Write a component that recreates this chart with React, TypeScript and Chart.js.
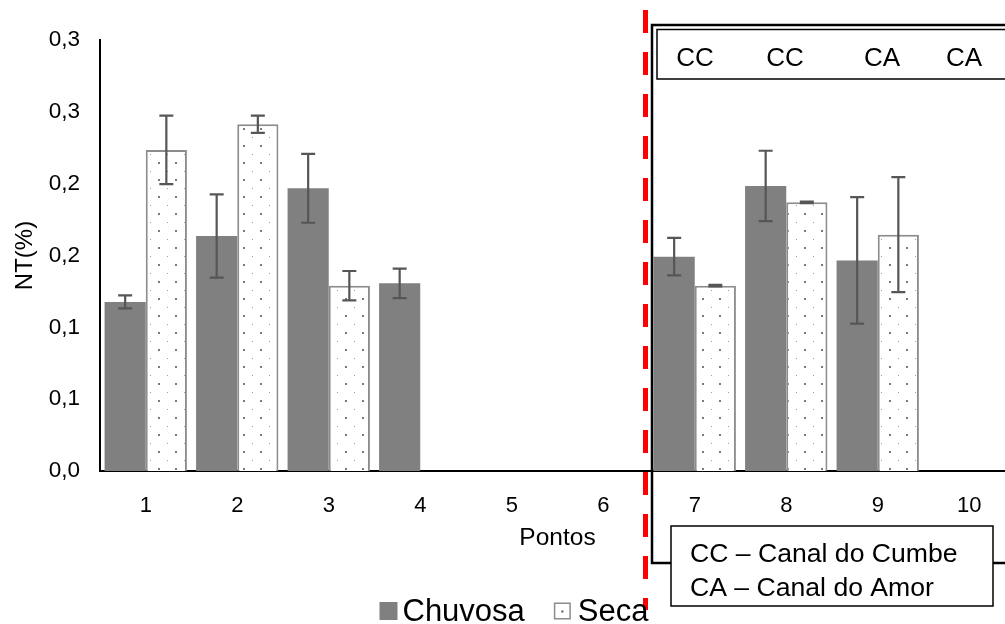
import React, { useEffect, useRef } from 'react';
import { Chart, registerables } from 'chart.js';

Chart.register(...registerables);

const categories = ['1', '2', '3', '4', '5', '6', '7', '8', '9', '10'];
const chuvosa = [0.1177, 0.1636, 0.1968, 0.1306, null, null, 0.1492, 0.1984, 0.1466, null];
const seca = [0.2235, 0.2413, 0.129, null, null, null, 0.129, 0.187, 0.1645, null];
const chuvosaErr = [0.0045, 0.029, 0.024, 0.0102, 0, 0, 0.013, 0.0245, 0.044, 0];
const secaErr = [0.0238, 0.006, 0.0102, 0, 0, 0, 0.0005, 0.0005, 0.04, 0];
const yTickLabels = ['0,0', '0,1', '0,1', '0,2', '0,2', '0,3', '0,3'];
const seriesLabels = ['Chuvosa', 'Seca'];
const siteLabels = ['CC', 'CC', 'CA', 'CA'];
const siteLegend = ['CC \u2013 Canal do Cumbe', 'CA \u2013 Canal do Amor'];

const FONT = "'Liberation Sans', Arial, sans-serif";

function makeDotPattern(): CanvasPattern | string {
  const c = document.createElement('canvas');
  c.width = 17;
  c.height = 17;
  const g = c.getContext('2d');
  if (!g) return '#fff';
  g.fillStyle = '#ffffff';
  g.fillRect(0, 0, 17, 17);
  g.fillStyle = '#9a9a9a';
  g.fillRect(14, 1, 1, 1);
  g.fillStyle = '#7a7a7a';
  g.fillRect(5, 9, 2, 2);
  return g.createPattern(c, 'repeat') || '#fff';
}

const errorBarPlugin = {
  id: 'errorBars',
  afterDatasetsDraw(chart: any) {
    const ctx = chart.ctx;
    const y = chart.scales.y;
    const errs = [chuvosaErr, secaErr];
    chart.data.datasets.forEach((ds: any, di: number) => {
      const meta = chart.getDatasetMeta(di);
      meta.data.forEach((bar: any, i: number) => {
        const v = ds.data[i];
        const e = errs[di][i];
        if (v == null || !e) return;
        const yTop = y.getPixelForValue(v + e);
        const yBot = y.getPixelForValue(v - e);
        ctx.save();
        ctx.strokeStyle = '#565656';
        ctx.lineWidth = 2.2;
        ctx.beginPath();
        ctx.moveTo(bar.x, yTop);
        ctx.lineTo(bar.x, yBot);
        ctx.moveTo(bar.x - 7, yTop);
        ctx.lineTo(bar.x + 7, yTop);
        ctx.moveTo(bar.x - 7, yBot);
        ctx.lineTo(bar.x + 7, yBot);
        ctx.stroke();
        ctx.restore();
      });
    });
  },
};

const annotationPlugin = {
  id: 'annotations',
  afterDraw(chart: any) {
    const ctx = chart.ctx;
    ctx.save();

    // Big region box (points 7-10)
    ctx.strokeStyle = '#000';
    ctx.lineWidth = 2.5;
    ctx.strokeRect(652, 25, 500, 538);

    // Inner box with site labels
    ctx.lineWidth = 1.5;
    ctx.strokeRect(657, 29.5, 500, 49.5);

    ctx.fillStyle = '#000';
    ctx.font = `26px ${FONT}`;
    ctx.textAlign = 'center';
    ctx.textBaseline = 'alphabetic';
    const siteX = [695, 785, 882, 964];
    siteLabels.forEach((t, i) => ctx.fillText(t, siteX[i], 66));

    // Site legend box
    ctx.fillStyle = '#fff';
    ctx.fillRect(671, 526, 322, 80);
    ctx.lineWidth = 1.5;
    ctx.strokeStyle = '#000';
    ctx.strokeRect(671, 526, 322, 80);
    ctx.fillStyle = '#000';
    ctx.textAlign = 'left';
    ctx.font = `26.6px ${FONT}`;
    ctx.fillText(siteLegend[0], 690, 562);
    ctx.fillText(siteLegend[1], 690, 596);

    // Red dashed separator
    ctx.strokeStyle = '#ff0000';
    ctx.lineWidth = 5;
    ctx.setLineDash([23, 19]);
    ctx.beginPath();
    ctx.moveTo(645.5, 10);
    ctx.lineTo(645.5, 610);
    ctx.stroke();
    ctx.setLineDash([]);

    // Series legend
    const ds = chart.data.datasets;
    ctx.font = `31px ${FONT}`;
    ctx.textBaseline = 'middle';
    const w1 = ctx.measureText(seriesLabels[0]).width;
    const w2 = ctx.measureText(seriesLabels[1]).width;
    const total = 18 + 5 + w1 + 29 + 17 + 7 + w2;
    let x = 514 - total / 2;
    const cy = 611;
    ctx.fillStyle = ds[0].backgroundColor;
    ctx.fillRect(x, cy - 9, 18, 18);
    x += 23;
    ctx.fillStyle = '#000';
    ctx.fillText(seriesLabels[0], x, cy + 1);
    x += w1 + 29;
    ctx.fillStyle = '#fff';
    ctx.fillRect(x, cy - 8.5, 17, 17);
    ctx.strokeStyle = ds[1].borderColor;
    ctx.lineWidth = 1.5;
    ctx.strokeRect(x + 0.75, cy - 7.75, 15.5, 15.5);
    ctx.fillStyle = '#555';
    ctx.fillRect(x + 7.5, cy - 0.5, 2, 2);
    x += 24;
    ctx.fillStyle = '#000';
    ctx.fillText(seriesLabels[1], x, cy + 1);

    ctx.restore();
  },
};

export default function App() {
  const ref = useRef<HTMLCanvasElement | null>(null);

  useEffect(() => {
    if (!ref.current) return;
    const pattern = makeDotPattern();
    const chart = new Chart(ref.current, {
      type: 'bar',
      data: {
        labels: categories,
        datasets: [
          {
            label: seriesLabels[0],
            data: chuvosa as any,
            backgroundColor: '#808080',
            borderWidth: 0,
            categoryPercentage: 0.9,
            barPercentage: 1.0,
          },
          {
            label: seriesLabels[1],
            data: seca as any,
            backgroundColor: pattern as any,
            borderColor: '#8c8c8c',
            borderWidth: 2,
            categoryPercentage: 0.9,
            barPercentage: 1.0,
          },
        ],
      },
      options: {
        animation: false,
        responsive: false,
        layout: { padding: { top: 40, left: 0, right: 0, bottom: 0 } },
        plugins: {
          legend: { display: false },
          tooltip: { enabled: false },
        },
        scales: {
          x: {
            grid: { display: false, drawTicks: false },
            border: { display: true, color: '#000', width: 2 },
            ticks: { color: '#000', font: { family: FONT, size: 22 }, padding: 22 },
            title: {
              display: true,
              text: 'Pontos',
              color: '#000',
              font: { family: FONT, size: 24.5 },
              padding: { top: 0, bottom: 71 },
            },
            afterFit: (s: any) => {
              s.height = 153;
            },
          },
          y: {
            min: 0,
            max: 0.3,
            grid: { display: false, drawTicks: false },
            border: { display: true, color: '#000', width: 2 },
            ticks: {
              stepSize: 0.05,
              color: '#000',
              font: { family: FONT, size: 22.5 },
              padding: 20,
              callback: (_v: any, i: number) => yTickLabels[i],
            },
            title: {
              display: true,
              text: 'NT(%)',
              color: '#000',
              font: { family: FONT, size: 24 },
              padding: { top: 11, bottom: 0 },
            },
            afterFit: (s: any) => {
              s.width = 100;
            },
          },
        },
      },
      plugins: [errorBarPlugin, annotationPlugin],
    });
    return () => chart.destroy();
  }, []);

  return (
    <div
      style={{
        position: 'fixed',
        left: 0,
        top: 0,
        width: 1005,
        height: 624,
        overflow: 'hidden',
        background: '#fff',
      }}
    >
      <canvas ref={ref} width={1015} height={624} style={{ display: 'block' }} />
    </div>
  );
}
